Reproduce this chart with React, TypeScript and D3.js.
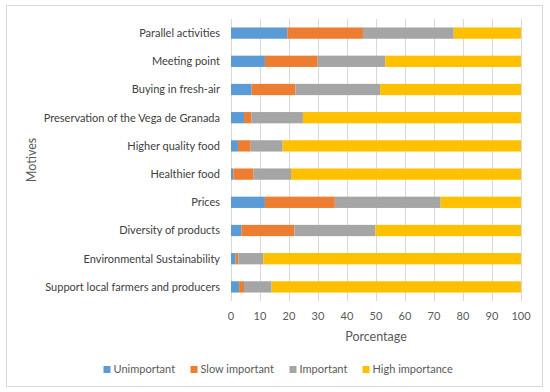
import React from "react";
import * as d3 from "d3";

const categories = [
  "Parallel activities",
  "Meeting point",
  "Buying in fresh-air",
  "Preservation of the Vega de Granada",
  "Higher quality food",
  "Healthier food",
  "Prices",
  "Diversity of products",
  "Environmental Sustainability",
  "Support local farmers and producers",
];
const seriesNames = ["Unimportant", "Slow important", "Important", "High importance"];
const unimportant = [19.4, 11.7, 7.1, 4.5, 2.4, 0.8, 11.7, 3.6, 1.6, 2.8];
const slowImportant = [26.1, 18.2, 15.1, 2.5, 4.4, 7.0, 24.1, 18.3, 0.9, 1.7];
const important = [31.3, 23.3, 29.2, 17.8, 11.0, 12.9, 36.5, 27.9, 8.6, 9.5];
const highImportance = [23.2, 46.8, 48.6, 75.2, 82.2, 79.3, 27.7, 50.2, 88.9, 86.0];
const xTicks = [0, 10, 20, 30, 40, 50, 60, 70, 80, 90, 100];
const colors = ["#5B9BD5", "#ED7D31", "#A5A5A5", "#FFC000"];

const FONT = "Lato, 'Open Sans', sans-serif";

export default function App() {
  const W = 550, H = 392;
  const left = 231, right = 521, top = 19, bottom = 301;
  const x = d3.scaleLinear().domain([0, 100]).range([left, right]);
  const y = d3.scaleBand<string>().domain(categories).range([top, bottom]).paddingInner(0.6).paddingOuter(0.3);

  const rows = categories.map((c, i) => ({
    cat: c,
    Unimportant: unimportant[i],
    "Slow important": slowImportant[i],
    Important: important[i],
    "High importance": highImportance[i],
  }));
  const stacked = d3.stack<any>().keys(seriesNames)(rows);

  // legend layout
  const legendWidths = [62, 74, 48, 80];
  const markerW = 7, gap = 3, spacing = 15;
  const total = legendWidths.reduce((a, w) => a + markerW + gap + w, 0) + spacing * (legendWidths.length - 1);
  let lx = 278 - total / 2;
  const legendItems = seriesNames.map((name, i) => {
    const item = { name, x: lx, color: colors[i] };
    lx += markerW + gap + legendWidths[i] + spacing;
    return item;
  });

  return (
    <svg width={W} height={H} style={{ position: "absolute", left: 0, top: 0, background: "#fff" }} fontFamily={FONT}>
      <rect x={6.5} y={5.5} width={536} height={381} fill="#fff" stroke="#d9d9d9" strokeWidth={1} />
      {xTicks.map((t) => (
        <line key={t} x1={Math.round(x(t)) + 0.5} x2={Math.round(x(t)) + 0.5} y1={top} y2={bottom} stroke="#d9d9d9" strokeWidth={1} />
      ))}
      {stacked.map((s, si) => (
        <g key={s.key} fill={colors[si]}>
          {s.map((d, i) => (
            <rect key={i} x={x(d[0])} y={y(categories[i])} width={x(d[1]) - x(d[0])} height={y.bandwidth()} />
          ))}
        </g>
      ))}
      {categories.map((c) => (
        <text key={c} x={220} y={(y(c) as number) + y.bandwidth() / 2} dy="0.35em" textAnchor="end" fontSize={11} fill="#404040">
          {c}
        </text>
      ))}
      {xTicks.map((t) => (
        <text key={t} x={x(t)} y={316} dy="0.35em" textAnchor="middle" fontSize={11} fill="#595959">
          {t}
        </text>
      ))}
      <text x={(left + right) / 2} y={337} dy="0.35em" textAnchor="middle" fontSize={12.5} fill="#595959">
        Porcentage
      </text>
      <text transform={`translate(32,160) rotate(-90)`} dy="0.35em" textAnchor="middle" fontSize={12.5} fill="#595959">
        Motives
      </text>
      {legendItems.map((it) => (
        <g key={it.name}>
          <rect x={it.x} y={366} width={markerW} height={markerW} fill={it.color} />
          <text x={it.x + markerW + gap} y={369.5} dy="0.35em" fontSize={11} fill="#595959">
            {it.name}
          </text>
        </g>
      ))}
    </svg>
  );
}
